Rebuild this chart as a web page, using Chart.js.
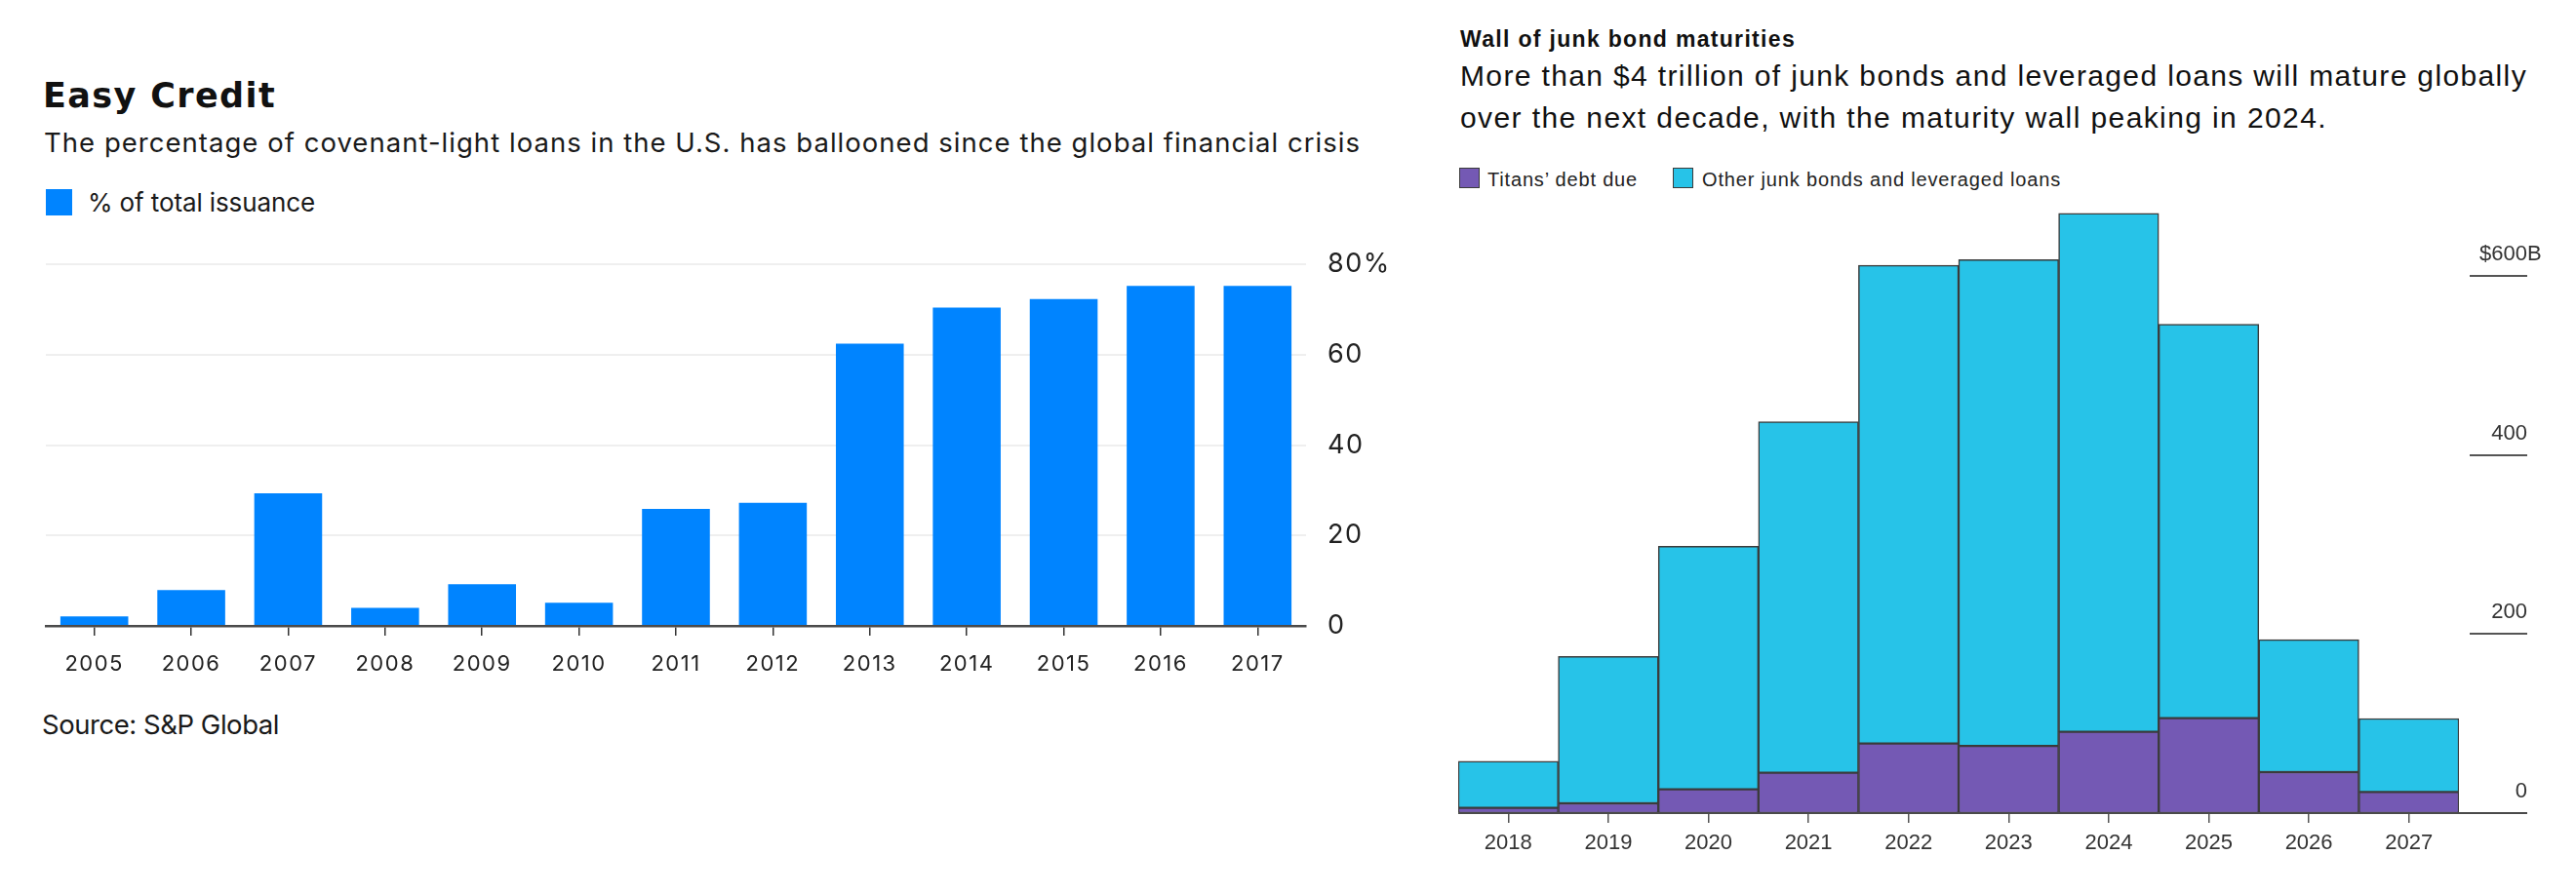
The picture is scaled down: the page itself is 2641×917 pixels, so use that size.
<!DOCTYPE html>
<html><head><meta charset="utf-8">
<script src="https://cdn.jsdelivr.net/npm/chart.js@4.4.0/dist/chart.umd.min.js"></script>
<style>
html,body{margin:0;padding:0;background:#fff;width:2641px;height:917px;overflow:hidden;position:relative}
.t{position:absolute;white-space:nowrap;line-height:1;color:#1a1a1a}
.L{font-family:Inter,sans-serif}
.R{font-family:"Liberation Sans",Arial,sans-serif;color:#111}
.sw{position:absolute;box-sizing:border-box}
canvas{position:absolute}
</style></head><body>
<div class="t" style="left:44px;top:81.1px;font-size:35px;font-weight:700;font-family:'DejaVu Sans',sans-serif;color:#111" data-w="239">Easy Credit</div>
<div class="t L" style="left:45px;top:133.2px;font-size:27.5px;font-weight:400" data-w="1350">The percentage of covenant-light loans in the U.S. has ballooned since the global financial crisis</div>
<div class="sw" style="left:47px;top:194px;width:27px;height:27px;background:#0084ff"></div>
<div class="t L" style="left:90px;top:195.2px;font-size:26px" data-w="233">% of total issuance</div>
<div class="t L" style="left:43px;top:729.5px;font-size:27.5px" data-w="243">Source: S&amp;P Global</div>

<div class="t R" style="left:1497px;top:28.8px;font-size:23px;font-weight:700" data-w="344">Wall of junk bond maturities</div>
<div class="t R" style="left:1497px;top:62.9px;font-size:30px" data-w="1094">More than $4 trillion of junk bonds and leveraged loans will mature globally</div>
<div class="t R" style="left:1497px;top:106.3px;font-size:30px" data-w="889">over the next decade, with the maturity wall peaking in 2024.</div>
<div class="sw" style="left:1496px;top:172px;width:21px;height:21px;background:#7459b4;border:1.5px solid #3b3b3b"></div>
<div class="t R" style="left:1525px;top:173.8px;font-size:20px;color:#222" data-w="154">Titans’ debt due</div>
<div class="sw" style="left:1715px;top:172px;width:21px;height:21px;background:#27c3e8;border:1.5px solid #3b3b3b"></div>
<div class="t R" style="left:1745px;top:173.8px;font-size:20px;color:#222" data-w="368">Other junk bonds and leveraged loans</div>

<canvas id="c1" width="1450" height="500" style="left:0;top:230px;width:1450px;height:500px"></canvas>
<canvas id="c2" width="1181" height="737" style="left:1460px;top:180px;width:1181px;height:737px"></canvas>

<script>
// ---- data ----
const leftYears = ['2005','2006','2007','2008','2009','2010','2011','2012','2013','2014','2015','2016','2017'];
const covLitePct = [2.1, 7.9, 29.3, 4.0, 9.2, 5.1, 25.9, 27.2, 62.4, 70.4, 72.3, 75.2, 75.2];
const leftTicks = [0, 20, 40, 60, 80];

const rightYears = ['2018','2019','2020','2021','2022','2023','2024','2025','2026','2027'];
const titansDebt = [5.8, 10.9, 26.5, 45, 77.7, 75, 90.7, 106, 45.7, 23.6];
const otherDebt = [52.2, 164, 271.5, 392, 534, 543, 579, 440, 148, 82];
const rightTicks = [0, 200, 400, 600];

// ---- fit header text widths ----
document.querySelectorAll('[data-w]').forEach(el => {
  const w = el.getBoundingClientRect().width;
  const n = el.textContent.length;
  el.style.letterSpacing = ((parseFloat(el.dataset.w) - w) / n) + 'px';
});

const spacingPlugin = {
  id: 'spacing',
  beforeDraw(chart, args, opts) { chart.ctx.letterSpacing = opts.value || '0px'; }
};

new Chart(document.getElementById('c1'), {
  type: 'bar',
  data: {
    labels: leftYears,
    datasets: [{
      label: '% of total issuance', data: covLitePct, backgroundColor: '#0084ff',
      borderWidth: 0, barPercentage: 0.70, categoryPercentage: 1
    }]
  },
  options: {
    responsive: false, animation: false, devicePixelRatio: 1,
    layout: { padding: { left: 47, top: 41, right: 0, bottom: 0 } },
    plugins: { legend: { display: false }, tooltip: { enabled: false }, spacing: { value: '1.5px' } },
    scales: {
      x: {
        grid: { display: true, drawOnChartArea: false, drawTicks: true, tickLength: 10, offset: false, color: '#333', lineWidth: 1.5 },
        border: { display: true, color: '#4a4a4a', width: 2.5, z: 1 },
        ticks: { font: { family: 'Inter', size: 22 }, color: '#222', padding: 16, maxRotation: 0, autoSkip: false },
        afterFit: s => { s.height = 88; }
      },
      y: {
        position: 'right', min: 0, max: 80,
        afterBuildTicks: s => { s.ticks = leftTicks.map(v => ({ value: v })); },
        grid: { color: '#efefef', lineWidth: 2, drawTicks: false },
        border: { display: false },
        ticks: { font: { family: 'Inter', size: 27 }, color: '#222', padding: 22, callback: v => v === 80 ? '80%' : String(v) },
        afterFit: s => { s.width = 111; }
      }
    }
  },
  plugins: [spacingPlugin]
});

const rightAxisPlugin = {
  id: 'rightAxis',
  afterDraw(chart) {
    const { ctx, chartArea, scales: { y } } = chart;
    const lineL = chartArea.right + 11, lineR = chartArea.right + 70;
    ctx.save();
    ctx.strokeStyle = '#4a4a4a'; ctx.lineWidth = 2;
    const y0 = Math.round(y.getPixelForValue(0));
    ctx.beginPath(); ctx.moveTo(chartArea.left, y0); ctx.lineTo(lineR, y0); ctx.stroke();
    ctx.font = '22px "Liberation Sans"'; ctx.fillStyle = '#333';
    ctx.textAlign = 'right'; ctx.textBaseline = 'alphabetic';
    rightTicks.forEach(v => {
      const py = Math.round(y.getPixelForValue(v));
      if (v !== 0) {
        ctx.strokeStyle = '#555';
        ctx.beginPath(); ctx.moveTo(lineL, py); ctx.lineTo(lineR, py); ctx.stroke();
      }
      const label = v === 600 ? '$600B' : String(v);
      let x = lineR;
      if (label.endsWith('B')) x += ctx.measureText('B').width;
      ctx.fillText(label, x, py - 16);
    });
    ctx.restore();
  }
};

new Chart(document.getElementById('c2'), {
  type: 'bar',
  data: {
    labels: rightYears,
    datasets: [
      { label: 'Titans’ debt due', data: titansDebt, backgroundColor: '#7459b4', borderColor: '#3b3b3b', borderWidth: 1.5, borderSkipped: false, barPercentage: 1, categoryPercentage: 1 },
      { label: 'Other junk bonds and leveraged loans', data: otherDebt, backgroundColor: '#27c3e8', borderColor: '#3b3b3b', borderWidth: 1.5, borderSkipped: false, barPercentage: 1, categoryPercentage: 1 }
    ]
  },
  options: {
    responsive: false, animation: false, devicePixelRatio: 1,
    layout: { padding: { left: 35, top: 11, right: 120, bottom: 0 } },
    plugins: { legend: { display: false }, tooltip: { enabled: false } },
    scales: {
      x: {
        stacked: true,
        grid: { display: true, drawOnChartArea: false, drawTicks: true, tickLength: 10, offset: false, color: '#555', lineWidth: 1.5 },
        border: { display: false },
        ticks: { font: { family: 'Liberation Sans', size: 22 }, color: '#333', padding: 8, maxRotation: 0, autoSkip: false },
        afterFit: s => { s.height = 83; }
      },
      y: { stacked: true, display: false, min: 0, max: 700 }
    }
  },
  plugins: [rightAxisPlugin]
});
</script>
</body></html>
